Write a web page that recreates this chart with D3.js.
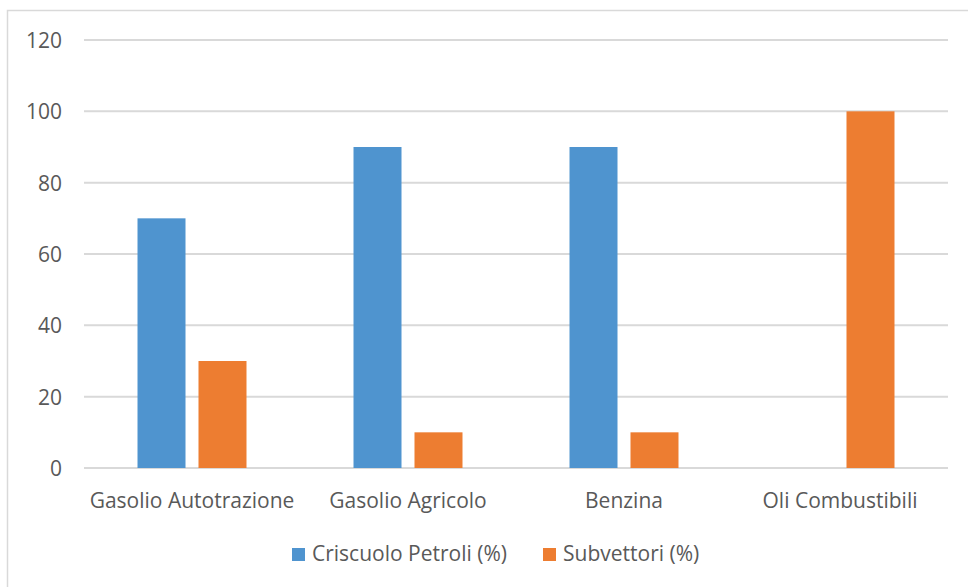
<!DOCTYPE html>
<html>
<head>
<meta charset="utf-8">
<script src="https://cdn.jsdelivr.net/npm/d3@7"></script>
<style>
  html, body { margin: 0; padding: 0; background: #ffffff; }
  svg { display: block; }
</style>
</head>
<body>
<svg id="chart" width="968" height="587"></svg>
<script>
// Fuel categories and the share handled by each carrier
const categories = ["Gasolio Autotrazione", "Gasolio Agricolo", "Benzina", "Oli Combustibili"];
const seriesNames = ["Criscuolo Petroli (%)", "Subvettori (%)"];
const criscuoloValues = [70, 90, 90, 0];
const subvettoriValues = [30, 10, 10, 100];
const yTicks = [0, 20, 40, 60, 80, 100, 120];
const seriesColors = ["#4f94cf", "#ed7d31"];

const seriesValues = [criscuoloValues, subvettoriValues];
const rows = categories.map((c, i) => ({
  category: c,
  values: seriesNames.map((s, j) => ({ series: s, value: seriesValues[j][i] }))
}));

const svg = d3.select("#chart");
const font = "'Open Sans', 'Liberation Sans', sans-serif";
const fontSize = 21;
const textColor = "#595959";
const gridColor = "#d9d9d9";

// Outer chart frame
svg.append("rect")
  .attr("x", 7.5).attr("y", 10.5)
  .attr("width", 1000).attr("height", 1000)
  .attr("fill", "none")
  .attr("stroke", gridColor)
  .attr("stroke-width", 1.5);

const plot = { left: 84, right: 948, top: 40, bottom: 468 };

const x = d3.scaleBand()
  .domain(categories)
  .range([plot.left, plot.right])
  .paddingInner(0).paddingOuter(0);

const bw = x.bandwidth();
const xSub = d3.scaleBand()
  .domain(seriesNames)
  .range([bw * 0.2477, bw * 0.7523])
  .paddingInner(0.213);

const y = d3.scaleLinear()
  .domain([0, 120])
  .range([plot.bottom, plot.top]);

// Horizontal gridlines
svg.append("g")
  .selectAll("line")
  .data(yTicks)
  .join("line")
  .attr("x1", plot.left).attr("x2", plot.right)
  .attr("y1", d => y(d)).attr("y2", d => y(d))
  .attr("stroke", gridColor)
  .attr("stroke-width", 2);

// Y axis labels
const yAxis = d3.axisLeft(y).tickValues(yTicks).tickSize(0).tickPadding(0);
const yG = svg.append("g")
  .attr("transform", "translate(62,0)")
  .call(yAxis);
yG.select(".domain").remove();
yG.selectAll("text")
  .attr("font-family", font)
  .attr("font-size", fontSize)
  .attr("fill", textColor)
  .attr("dy", "0.36em");

// Bars
const groups = svg.append("g")
  .selectAll("g")
  .data(rows)
  .join("g")
  .attr("transform", d => `translate(${x(d.category)},0)`);

groups.selectAll("rect")
  .data(d => d.values)
  .join("rect")
  .attr("x", d => xSub(d.series))
  .attr("width", xSub.bandwidth())
  .attr("y", d => y(d.value))
  .attr("height", d => y(0) - y(d.value))
  .attr("fill", (d, i) => seriesColors[i]);

// Category labels
const xAxis = d3.axisBottom(x).tickSize(0).tickPadding(0);
const xG = svg.append("g")
  .attr("transform", `translate(0,${plot.bottom})`)
  .call(xAxis);
xG.select(".domain").remove();
xG.selectAll("text")
  .attr("font-family", font)
  .attr("font-size", fontSize)
  .attr("fill", textColor)
  .attr("dy", 0)
  .attr("y", 40);

// Legend
const legendItems = [
  { name: seriesNames[0], color: seriesColors[0], x: 292 },
  { name: seriesNames[1], color: seriesColors[1], x: 543 }
];
const legend = svg.append("g");
legendItems.forEach(item => {
  legend.append("rect")
    .attr("x", item.x).attr("y", 548)
    .attr("width", 13).attr("height", 13)
    .attr("fill", item.color);
  legend.append("text")
    .attr("x", item.x + 20).attr("y", 561)
    .attr("font-family", font)
    .attr("font-size", fontSize)
    .attr("fill", textColor)
    .text(item.name);
});
</script>
</body>
</html>
